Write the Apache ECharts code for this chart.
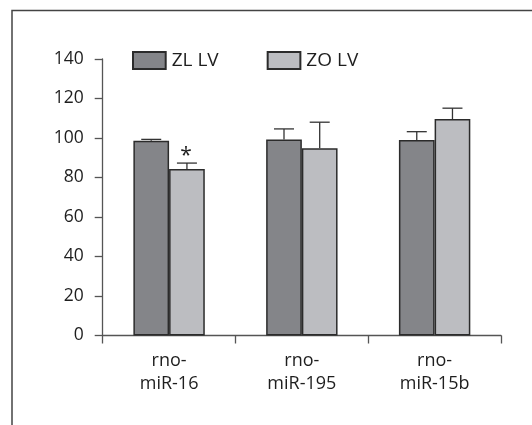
<!DOCTYPE html>
<html>
<head>
<meta charset="utf-8">
<script src="https://cdn.jsdelivr.net/npm/echarts@6/dist/echarts.min.js"></script>
<style>
html,body{margin:0;padding:0;background:#fff;}
#chart{width:532px;height:425px;}
</style>
</head>
<body>
<div id="chart"></div>
<script>
var categories = ['rno-\nmiR-16', 'rno-\nmiR-195', 'rno-\nmiR-15b'];
var seriesNames = ['ZL LV', 'ZO LV'];
var zlValues = [98.6, 99.3, 99];
var zlErrors = [0.7, 5.3, 4.2];
var zoValues = [84.3, 94.8, 109.6];
var zoErrors = [3, 13.2, 5.5];
var zoSignificant = [true, false, false];
var yTicks = { min: 0, max: 140, interval: 20 };

var FONT = '"Open Sans", sans-serif';
var BAR_W = 35.7;
var TXT = '#1e1e1e';

function errData(values, errors, sig) {
  return values.map(function (v, i) {
    return [i, v, errors[i], sig && sig[i] ? 1 : 0];
  });
}

function errRenderer(offset) {
  return function (params, api) {
    var idx = api.value(0);
    var v = api.value(1);
    var e = api.value(2);
    var s = api.value(3);
    var base = api.coord([idx, v]);
    var top = api.coord([idx, v + e]);
    var x = base[0] + offset;
    var children = [
      { type: 'line', shape: { x1: x, y1: base[1], x2: x, y2: top[1] },
        style: { stroke: '#333', lineWidth: 1.3 } },
      { type: 'line', shape: { x1: x - 10, y1: top[1], x2: x + 10, y2: top[1] },
        style: { stroke: '#333', lineWidth: 1.3 } }
    ];
    if (s) {
      children.push({ type: 'text', x: x - 1, y: top[1] - 7,
        style: { text: '*', font: '21px ' + FONT, fill: TXT, align: 'center', verticalAlign: 'middle' } });
    }
    return { type: 'group', children: children };
  };
}

var chart = echarts.init(document.getElementById('chart'));
chart.setOption({
  animation: false,
  textStyle: { fontFamily: FONT },
  graphic: [{
    type: 'polyline',
    shape: { points: [[12, 430], [12, 10.5], [534, 10.5]] },
    style: { stroke: '#444', lineWidth: 1.5, fill: null }
  }],
  legend: {
    left: 127, top: 46,
    itemWidth: 32.7, itemHeight: 17, itemGap: 48,
    icon: 'rect',
    data: seriesNames,
    textStyle: { fontSize: 19, color: TXT, fontFamily: FONT, padding: [0, 0, 0, 1] }
  },
  grid: { left: 102.7, top: 59, right: 31, bottom: 89.5, containLabel: false },
  xAxis: {
    type: 'category',
    data: categories,
    axisLine: { lineStyle: { color: '#555', width: 1.3 } },
    axisTick: { show: true, length: 8, lineStyle: { color: '#555', width: 1.3 } },
    axisLabel: { color: TXT, fontSize: 18, lineHeight: 23, margin: 14, fontFamily: FONT }
  },
  yAxis: {
    type: 'value',
    min: yTicks.min, max: yTicks.max, interval: yTicks.interval,
    axisLine: { show: true, lineStyle: { color: '#555', width: 1.3 } },
    axisTick: { show: true, length: 8, lineStyle: { color: '#555', width: 1.3 } },
    splitLine: { show: false },
    axisLabel: { color: TXT, fontSize: 17.5, margin: 19, fontFamily: FONT }
  },
  series: [
    {
      name: seriesNames[0], type: 'bar', data: zlValues,
      barWidth: BAR_W, barGap: '0%',
      itemStyle: { color: '#848589', borderColor: '#2b2b2b', borderWidth: 1.5 }
    },
    {
      name: seriesNames[1], type: 'bar', data: zoValues,
      barWidth: BAR_W, barGap: '0%',
      itemStyle: { color: '#bcbdc1', borderColor: '#2b2b2b', borderWidth: 1.5 }
    },
    {
      type: 'custom', renderItem: errRenderer(-BAR_W / 2),
      data: errData(zlValues, zlErrors), z: 5, silent: true
    },
    {
      type: 'custom', renderItem: errRenderer(BAR_W / 2),
      data: errData(zoValues, zoErrors, zoSignificant), z: 5, silent: true
    }
  ]
});
</script>
</body>
</html>
